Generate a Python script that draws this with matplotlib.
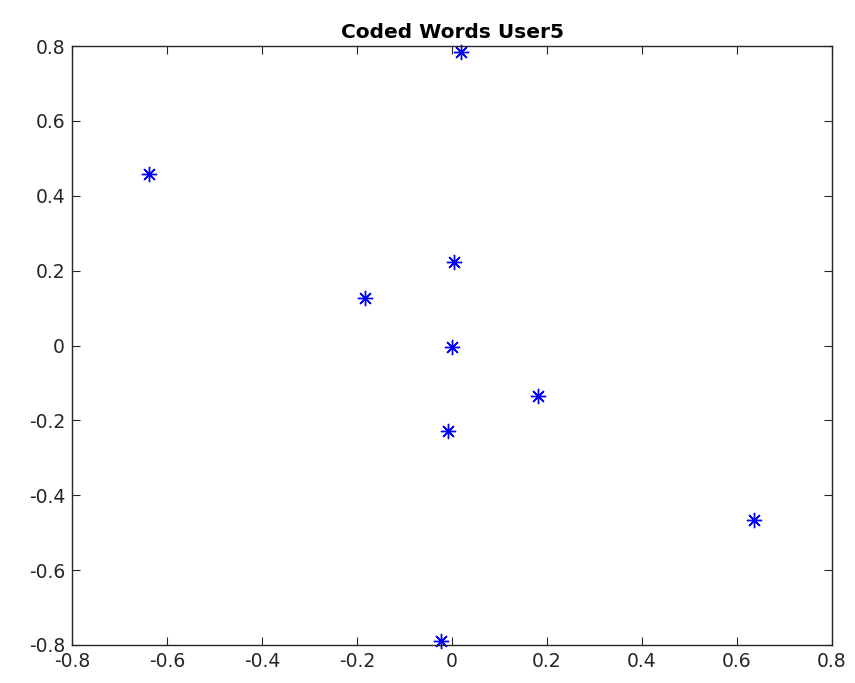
import numpy as np
import matplotlib
matplotlib.use('Agg')
import matplotlib.pyplot as plt

# Data
x_vals = [0.019, -0.638, 0.004, -0.183, 0.0, 0.181, -0.008, 0.636, -0.023]
y_vals = [0.784, 0.458, 0.223, 0.127, -0.004, -0.135, -0.228, -0.466, -0.790]
title = 'Coded Words User5'
ticks = [-0.8, -0.6, -0.4, -0.2, 0, 0.2, 0.4, 0.6, 0.8]
tick_labels = ['-0.8', '-0.6', '-0.4', '-0.2', '0', '0.2', '0.4', '0.6', '0.8']

plt.rcParams['font.family'] = ['DejaVu Sans']
axcol = '#262626'

fig = plt.figure(figsize=(8.55, 6.83), dpi=100)
ax = fig.add_axes([72/855, 1-645/683, 760/855, 599/683])

ax.plot(x_vals, y_vals, linestyle='none', marker=(8, 2, 0), markersize=11,
        markeredgewidth=1.0, color='#0000ff', clip_on=False)

ax.set_xlim(-0.8, 0.8)
ax.set_ylim(-0.8, 0.8)
ax.set_xticks(ticks)
ax.set_xticklabels(tick_labels)
ax.set_yticks(ticks)
ax.set_yticklabels(tick_labels)
ax.tick_params(direction='in', top=True, right=True, length=6, width=0.8,
               labelsize=13.5, colors=axcol, pad=5)
for s in ax.spines.values():
    s.set_color(axcol)
    s.set_linewidth(1.0)

ax.set_title(title, fontsize=14.5, fontweight='bold', color='black', pad=6)

fig.savefig('out.png', dpi=100)
